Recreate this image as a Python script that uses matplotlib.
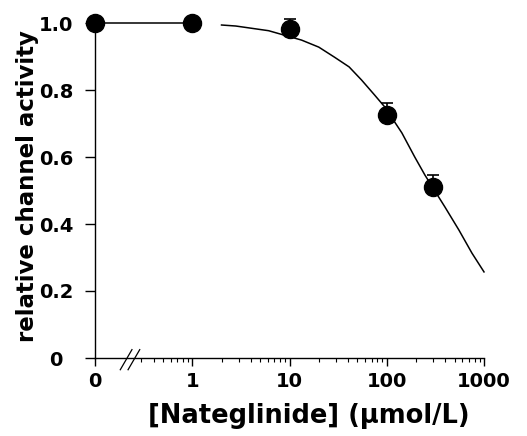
"""Nateglinide dose-response: relative channel activity vs concentration."""

import matplotlib
matplotlib.use("Agg")
import matplotlib.pyplot as plt
import numpy as np
from matplotlib.ticker import FixedLocator, NullFormatter

plt.rcParams["font.family"] = ["DejaVu Sans"]
plt.rcParams["font.weight"] = "bold"

# "0" concentration is drawn one decade below 1 on the log axis
ZERO_POS = 0.1

conc = [0, 1, 10, 100, 300]
activity = [1.0, 1.0, 0.982, 0.725, 0.51]
activity_err = [0.0, 0.0, 0.03, 0.036, 0.036]

# fitted curve (nan = small gap in the drawn line)
curve_conc = [0, 1.2, np.nan, 2.0, 2.8, 6.1, 13.3, 20, 29, 41, 55, 75, 95,
              143, 194, 247, 396, 552, 752, 1000]
curve_act = [1.0, 1.0, np.nan, 0.994, 0.991, 0.977, 0.949, 0.928, 0.898, 0.869, 0.83, 0.785, 0.75,
             0.672, 0.60, 0.546, 0.451, 0.382, 0.313, 0.257]

x_major = [0, 1, 10, 100, 1000]
x_major_labels = ["0", "1", "10", "100", "1000"]
y_major = [0, 0.2, 0.4, 0.6, 0.8, 1.0]
y_major_labels = ["0", "0.2", "0.4", "0.6", "0.8", "1.0"]


def to_pos(values):
    return [ZERO_POS if v == 0 else v for v in values]


fig = plt.figure(figsize=(5.27, 4.36), dpi=100)
ax = fig.add_axes([95 / 527, 1 - 358 / 436, 389 / 527, 335 / 436])

ax.set_xscale("log")
ax.plot(to_pos(curve_conc), curve_act, color="black", lw=1.1, clip_on=False, zorder=2)
ax.errorbar(to_pos(conc), activity, yerr=[[0] * len(conc), activity_err], fmt="o",
            color="black", ms=13, elinewidth=1.2, capsize=4, capthick=1.2,
            clip_on=False, zorder=3)

ax.set_xlim(ZERO_POS, 1000)
ax.set_ylim(0, 1.0)

ax.xaxis.set_major_locator(FixedLocator(to_pos(x_major)))
ax.set_xticklabels(x_major_labels, fontsize=14, fontweight="bold")
minor = [m * d for d in (0.1, 1, 10, 100) for m in range(2, 10) if m * d >= 0.3]
ax.xaxis.set_minor_locator(FixedLocator(minor))
ax.xaxis.set_minor_formatter(NullFormatter())
ax.set_yticks(y_major)
ax.set_yticklabels(y_major_labels, fontsize=14, fontweight="bold", ha="center")

ax.tick_params(axis="x", which="major", length=6, width=1, pad=4)
ax.tick_params(axis="x", which="minor", length=3, width=0.8)
ax.tick_params(axis="y", which="major", length=7.2, width=1, pad=21)

for side in ("top", "right"):
    ax.spines[side].set_visible(False)
for side in ("left", "bottom"):
    ax.spines[side].set_linewidth(1.0)

# axis break marks
for dx in (0.0, 0.02):
    ax.plot([0.065 + dx, 0.095 + dx], [-0.035, 0.025], transform=ax.transAxes,
            color="black", lw=0.9, clip_on=False)

ax.set_xlabel("[Nateglinide] (μmol/L)", fontsize=18.5, fontweight="bold")
ax.xaxis.set_label_coords(0.55, -0.135)
ax.set_ylabel("relative channel activity", fontsize=16.5, fontweight="bold")
ax.yaxis.set_label_coords(-0.145, 0.513)

fig.savefig("out.png", dpi=100)
